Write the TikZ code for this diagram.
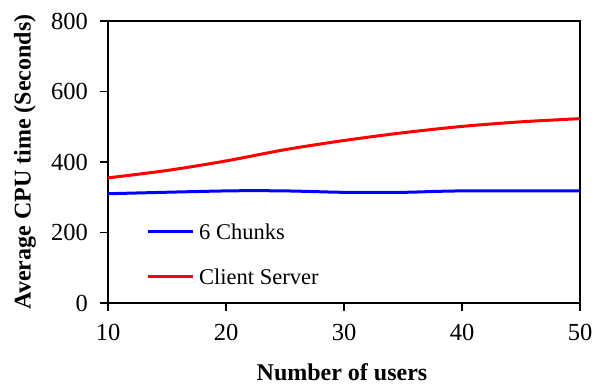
\documentclass[tikz,border=0pt]{standalone}
\usepackage{fontspec}
\setmainfont{Liberation Serif}
\begin{document}
\begin{tikzpicture}[x=1pt,y=-1pt,
  axisline/.style={line width=1.4pt,black},
  ticklabel/.style={font=\fontsize{24.5}{29}\selectfont,inner sep=0pt},
  axistitle/.style={font=\fontsize{24}{28}\selectfont\bfseries,inner sep=0pt},
  legendtext/.style={font=\fontsize{22.5}{27}\selectfont,inner sep=0pt,anchor=west},
  seriesA/.style={line width=3pt,blue},
  seriesB/.style={line width=3pt,red}]
\useasboundingbox (0,0) rectangle (605,389);

% plot frame
\draw[axisline] (108,21) rectangle (580,303);

% y ticks and labels
\foreach \v/\py in {0/303,200/232.5,400/162,600/91.5,800/21}{
  \draw[axisline] (100,\py) -- (108,\py);
  \node[ticklabel,anchor=east] (ylab\v) at (88,\py) {\v};
}
% x ticks and labels
\foreach \u/\px in {10/108,20/226,30/344,40/462,50/580}{
  \draw[axisline] (\px,303) -- (\px,311);
  \node[ticklabel] (xlab\u) at (\px,332.5) {\u};
}

% axis titles
\node[axistitle] (xtitle) at (342,372) {Number of users};
\node[axistitle,rotate=90] (ytitle) at (25,162) {Average CPU time (Seconds)};

% data series in data coordinates
\begin{scope}[shift={(-10pt,-303pt)},x=11.8pt,y=0.3525pt]
  \draw[seriesB] plot[smooth,tension=0.5] coordinates
    {(10,355) (15,376) (20,403) (25,435) (30,461) (35,483) (40,501) (45,514) (50,523)};
  \draw[seriesA] plot[smooth,tension=0.5] coordinates
    {(10,310) (20,318) (25,318) (30,314) (35,314) (40,318) (50,318)};
\end{scope}

% legend
\coordinate (la1) at (148,231);
\coordinate (la2) at (193,231);
\coordinate (lb1) at (148,276.7);
\coordinate (lb2) at (193,276.7);
\draw[seriesA] (la1) -- (la2);
\draw[seriesB] (lb1) -- (lb2);
\node[legendtext] (legA) at (199,231.3) {6 Chunks};
\node[legendtext] (legB) at (199,276.7) {Client Server};
\end{tikzpicture}
\end{document}
